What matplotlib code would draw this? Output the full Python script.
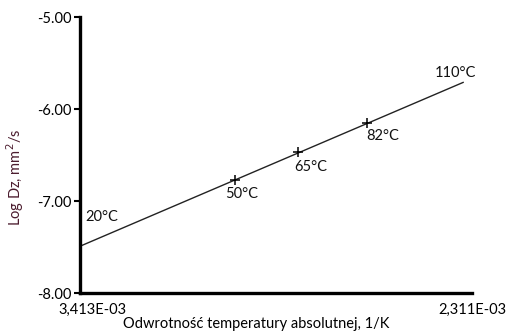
import matplotlib
matplotlib.use('Agg')
import matplotlib.pyplot as plt
import matplotlib.transforms as mtransforms

plt.rcParams['font.family'] = ['Lato', 'DejaVu Sans']

# odwrotnosc temperatury (1/K) i log Dz
x_min, x_max = 3.413e-3, 2.311e-3
line_x = [3.413e-3, 2.336e-3]
line_y = [-7.49, -5.71]
marker_x = [2.977e-3, 2.800e-3, 2.606e-3]
marker_y = [-6.77, -6.47, -6.15]
temp_labels = ['20°C', '50°C', '65°C', '82°C', '110°C']
label_x = [3.352e-3, 2.958e-3, 2.764e-3, 2.561e-3, 2.358e-3]
label_y = [-7.17, -6.92, -6.63, -6.29, -5.61]
y_ticks = [-5.0, -6.0, -7.0, -8.0]
x_tick_labels = ['3,413E-03', '2,311E-03']

fs = 10.5

fig = plt.figure(figsize=(5.07, 3.35), dpi=100)
ax = fig.add_axes([0.158, 0.125, 0.773, 0.824])

ax.plot(line_x, line_y, color='#222222', lw=1.0)
ax.plot(marker_x, marker_y, '+', color='black', ms=7, mew=1.1)

for t, lx, ly in zip(temp_labels, label_x, label_y):
    ax.text(lx, ly, t, fontsize=fs, ha='center', va='center', color='#111111')

ax.set_xlim(x_min, x_max)
ax.set_ylim(-8.0, -5.0)

ax.spines['top'].set_visible(False)
ax.spines['right'].set_visible(False)
ax.spines['left'].set_linewidth(2.4)
ax.spines['bottom'].set_linewidth(2.4)

ax.set_yticks(y_ticks)
ax.set_yticklabels(['%.2f' % v for v in y_ticks], fontsize=fs)
ax.tick_params(axis='y', direction='out', length=4, width=1.5, pad=2)
ax.set_xticks([])

# tylko dwie etykiety na osi x: poczatek i koniec
trans = mtransforms.blended_transform_factory(ax.transData, ax.transAxes)
ax.text(x_min - 0.036e-3, -0.035, x_tick_labels[0], transform=trans,
        fontsize=fs, ha='center', va='top')
ax.text(x_max, -0.035, x_tick_labels[1], transform=trans, fontsize=fs,
        ha='center', va='top')

fig.text(0.505, 0.012, 'Odwrotność temperatury absolutnej, 1/K', fontsize=fs,
         ha='center', va='bottom')
fig.text(0.03, 0.47, 'Log Dz, mm$^2$/s', fontsize=fs, rotation=90,
         ha='center', va='center', color='#4b1c2e')

fig.savefig('out.png', dpi=100)
